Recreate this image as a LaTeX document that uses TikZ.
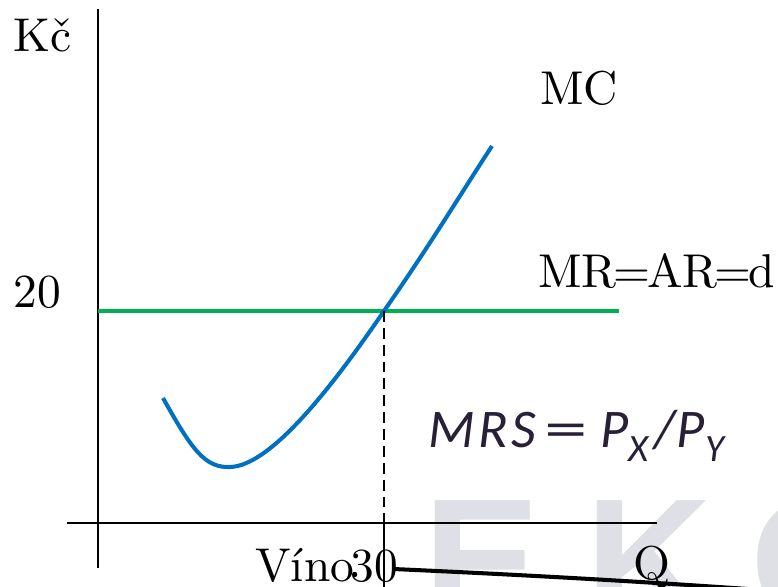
\documentclass[tikz,border=0pt]{standalone}
\usepackage{fontspec}
\usepackage{graphicx}
\usepackage{tikz}
\usetikzlibrary{positioning}
\setmainfont{lmroman10-regular.otf}
\newfontfamily\carlito{Carlito}
\newfontfamily\wmfont{Liberation Sans}
\definecolor{mcblue}{RGB}{0,112,192}
\definecolor{mrgreen}{RGB}{0,176,80}
\definecolor{mrscol}{RGB}{40,32,55}
\definecolor{wmgray}{RGB}{222,224,229}

\begin{document}
\begin{tikzpicture}[x=0.02cm,y=-0.02cm,
    lbl/.style={font=\fontsize{27}{31}\selectfont, inner sep=0pt, anchor=base west},
    wm/.style={font=\wmfont\bfseries\fontsize{100}{100}\selectfont, text=wmgray, inner sep=0pt, anchor=base west}]
    \useasboundingbox (0,0) rectangle (778,587);
    \clip (0,0) rectangle (778,587);

    % Watermark
    \node[wm] (wmE) at (423,622) {E};
    \node[wm] (wmK) at (585,622) {K};
    \node[wm] (wmO) at (750,622) {O};

    % Axes
    \draw[line width=1.4pt] (98,9) -- (98,568);
    \draw[line width=1.4pt] (67,523) -- (657,523);
    \node[lbl] (kc) at (13,52) {Kč};
    \node[lbl] (q) at (633,580) {Q};

    % MR=AR=d
    \coordinate (eq) at (384,311);
    \draw[mrgreen, line width=2.4pt] (98,311) -- (619,311);
    \node[lbl] (p20) at (13,308) {20};
    \node[lbl] (mr) at (538,288) {MR\kern-1.8pt=\kern-1.8pt AR\kern-1.8pt=\kern-1.8pt d};

    % MC
    \draw[mcblue, line width=2.3pt] (163,398)
        .. controls (192,450) and (205,468) .. (230,467)
        .. controls (270,466) and (330,390) .. (eq)
        .. controls (430,245) and (460,195) .. (492,146);
    \node[lbl] (mc) at (540,105) {MC};

    % Optimum
    \draw[line width=1.2pt, dash pattern=on 6.2pt off 3.4pt] (eq) -- (384,523);
    \draw[line width=1.2pt] (384,523) -- (384,587);
    \node[lbl] (vino) at (255,582) {Víno};
    \node[lbl] (q30) at (350,582) {30};
    \draw[line width=2.3pt] (393,569) .. controls (550,576) and (680,584) .. (790,592);

    % Condition
    \node[inner sep=0pt, anchor=base west, text=mrscol,
          font=\carlito\itshape\fontsize{31}{33}\selectfont] (mrs) at (428,448)
        {M\kern2pt R\kern2pt S\hspace{5pt}\scalebox{1.6}[1]{\upshape =}\hspace{7pt}P\raisebox{-0.25em}{\fontsize{22}{23}\selectfont X}\kern3pt/\kern1pt P\raisebox{-0.25em}{\fontsize{22}{23}\selectfont Y}};
\end{tikzpicture}
\end{document}
